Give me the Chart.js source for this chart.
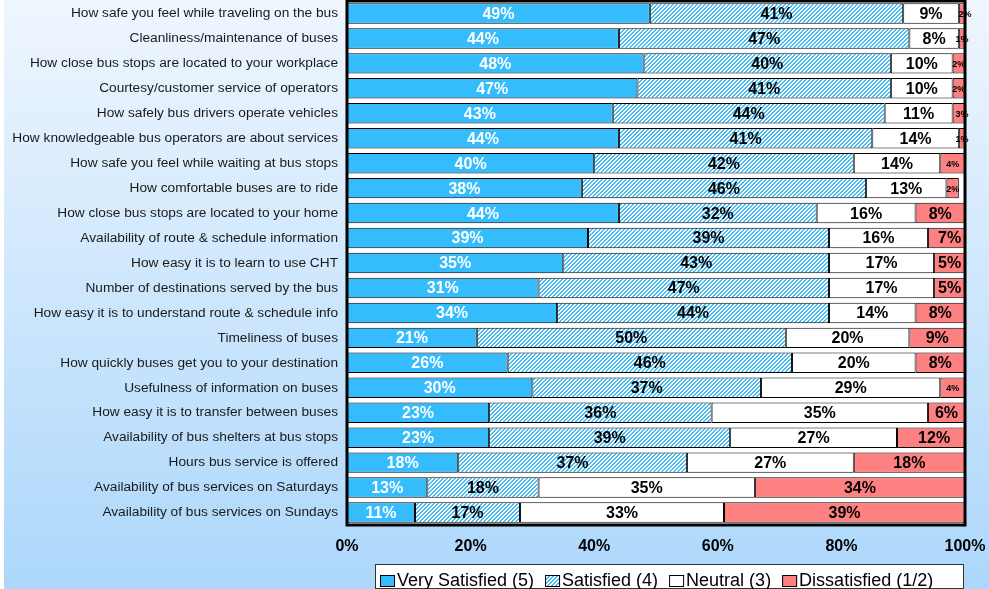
<!DOCTYPE html>
<html>
<head>
<meta charset="utf-8">
<script src="https://cdn.jsdelivr.net/npm/chart.js@4.4.1/dist/chart.umd.min.js"></script>
<style>
  html, body { margin: 0; padding: 0; background: #fff; }
  #bg { position: absolute; left: 4px; top: 0; width: 985px; height: 589px; background: linear-gradient(#eff6fe, #acd7fb); }
  #wrap { position: absolute; left: 0; top: 0; width: 989px; height: 589px; }
</style>
</head>
<body>
<div id="bg"></div>
<div id="wrap"><canvas id="survey" width="989" height="589"></canvas></div>
<script>
// satisfaction survey results, % of riders per rating
const questions = [
  'How safe you feel while traveling on the bus',
  'Cleanliness/maintenance of buses',
  'How close bus stops are located to your workplace',
  'Courtesy/customer service of operators',
  'How safely bus drivers operate vehicles',
  'How knowledgeable bus operators are about services',
  'How safe you feel while waiting at bus stops',
  'How comfortable buses are to ride',
  'How close bus stops are located to your home',
  'Availability of route & schedule information',
  'How easy it is to learn to use CHT',
  'Number of destinations served by the bus',
  'How easy it is to understand route & schedule info',
  'Timeliness of buses',
  'How quickly buses get you to your destination',
  'Usefulness of information on buses',
  'How easy it is to transfer between buses',
  'Availability of bus shelters at bus stops',
  'Hours bus service is offered',
  'Availability of bus services on Saturdays',
  'Availability of bus services on Sundays'
]
const verySatisfied = [49, 44, 48, 47, 43, 44, 40, 38, 44, 39, 35, 31, 34, 21, 26, 30, 23, 23, 18, 13, 11]
const satisfied     = [41, 47, 40, 41, 44, 41, 42, 46, 32, 39, 43, 47, 44, 50, 46, 37, 36, 39, 37, 18, 17]
const neutral       = [9, 8, 10, 10, 11, 14, 14, 13, 16, 16, 17, 17, 14, 20, 20, 29, 35, 27, 27, 35, 33]
const dissatisfied  = [2, 1, 2, 2, 3, 1, 4, 2, 8, 7, 5, 5, 8, 9, 8, 4, 6, 12, 18, 34, 39]
const ratingNames = ['Very Satisfied (5)', 'Satisfied (4)', 'Neutral (3)', 'Dissatisfied (1/2)']
const xTicks = [0, 20, 40, 60, 80, 100]

const FONT = "'Liberation Sans', Arial, sans-serif"

// diagonal hatch for the "Satisfied" bars
function makeHatch() {
  var c = document.createElement('canvas')
  c.width = 4; c.height = 4
  var g = c.getContext('2d')
  g.fillStyle = '#ffffff'
  g.fillRect(0, 0, 4, 4)
  g.fillStyle = '#48bdf5'
  for (var x = 0; x < 4; x++) {
    for (var y = 0; y < 4; y++) {
      if ((x + y) % 4 < 2) g.fillRect(x, y, 1, 1)
    }
  }
  return g.createPattern(c, 'repeat')
}
const hatch = makeHatch()

// white plot area + heavy frame
const plotFrame = {
  id: 'plotFrame',
  beforeDatasetsDraw(chart) {
    const {ctx, chartArea: a} = chart
    ctx.save()
    ctx.fillStyle = '#fff'
    ctx.fillRect(a.left, a.top, a.right - a.left, a.bottom - a.top)
    ctx.restore()
  },
  afterDatasetsDraw(chart) {
    const {ctx, chartArea: a} = chart
    ctx.save()
    ctx.strokeStyle = '#000'
    ctx.lineWidth = 3
    ctx.strokeRect(a.left, a.top, a.right - a.left, a.bottom - a.top)
    ctx.restore()
  }
}

// percentage labels in the middle of every segment
const segmentLabels = {
  id: 'segmentLabels',
  afterDatasetsDraw(chart) {
    const ctx = chart.ctx
    ctx.save()
    ctx.textAlign = 'center'
    ctx.textBaseline = 'middle'
    chart.data.datasets.forEach((ds, i) => {
      chart.getDatasetMeta(i).data.forEach((bar, j) => {
        const v = ds.data[j]
        const small = v <= 4
        ctx.font = (small ? '700 9px ' : '700 16px ') + FONT
        ctx.fillStyle = i === 0 ? '#fff' : '#000'
        ctx.fillText(v + '%', (bar.x + bar.base) / 2, bar.y + 1)
      })
    })
    ctx.restore()
  }
}

// boxed legend under the axis
const boxLegend = {
  id: 'boxLegend',
  afterDraw(chart) {
    const ctx = chart.ctx
    ctx.save()
    ctx.fillStyle = '#fff'
    ctx.fillRect(375, 564, 588, 25)
    ctx.strokeStyle = '#333'
    ctx.lineWidth = 1
    ctx.strokeRect(375.5, 564.5, 588, 24)
    ctx.font = '18px ' + FONT
    ctx.textBaseline = 'alphabetic'
    ctx.textAlign = 'left'
    let x = 380
    chart.data.datasets.forEach(ds => {
      ctx.fillStyle = ds.backgroundColor
      ctx.fillRect(x, 575, 15, 12)
      ctx.strokeStyle = '#000'
      ctx.strokeRect(x + 0.5, 575.5, 14, 11)
      ctx.fillStyle = '#000'
      ctx.fillText(ds.label, x + 17, 586)
      x += 17 + ctx.measureText(ds.label).width + 11
    })
    ctx.restore()
  }
}

const colors = ['#35bcfd', hatch, '#ffffff', '#ff8080']
const series = [verySatisfied, satisfied, neutral, dissatisfied]

new Chart(document.getElementById('survey'), {
  type: 'bar',
  data: {
    labels: questions,
    datasets: series.map((vals, i) => ({
      label: ratingNames[i],
      data: vals,
      backgroundColor: colors[i],
      borderColor: '#000',
      borderWidth: 1,
      borderSkipped: false,
      barPercentage: 0.82,
      categoryPercentage: 1
    }))
  },
  options: {
    indexAxis: 'y',
    responsive: false,
    animation: false,
    layout: { padding: { top: 1, right: 24, bottom: 28, left: 0 } },
    plugins: { legend: { display: false }, tooltip: { enabled: false } },
    scales: {
      x: {
        stacked: true,
        min: 0,
        max: 100,
        afterBuildTicks: scale => { scale.ticks = xTicks.map(v => ({ value: v })) },
        afterFit: scale => {
          scale.height = 36
          scale.paddingLeft = 0
          scale.paddingRight = 0
        },
        grid: { display: false, drawTicks: false },
        border: { display: false },
        ticks: {
          padding: 12,
          color: '#000',
          font: { family: FONT, size: 16, weight: 'bold' },
          callback: v => v + '%'
        }
      },
      y: {
        stacked: true,
        afterFit: scale => {
          scale.width = 347
          scale.paddingTop = 0
          scale.paddingBottom = 0
        },
        grid: { offset: true, color: '#9a9a9a', drawTicks: false },
        border: { display: false },
        ticks: {
          autoSkip: false,
          padding: 9,
          color: '#1a1a1a',
          font: { family: FONT, size: 13.7 }
        }
      }
    }
  },
  plugins: [plotFrame, segmentLabels, boxLegend]
})
</script>
</body>
</html>
